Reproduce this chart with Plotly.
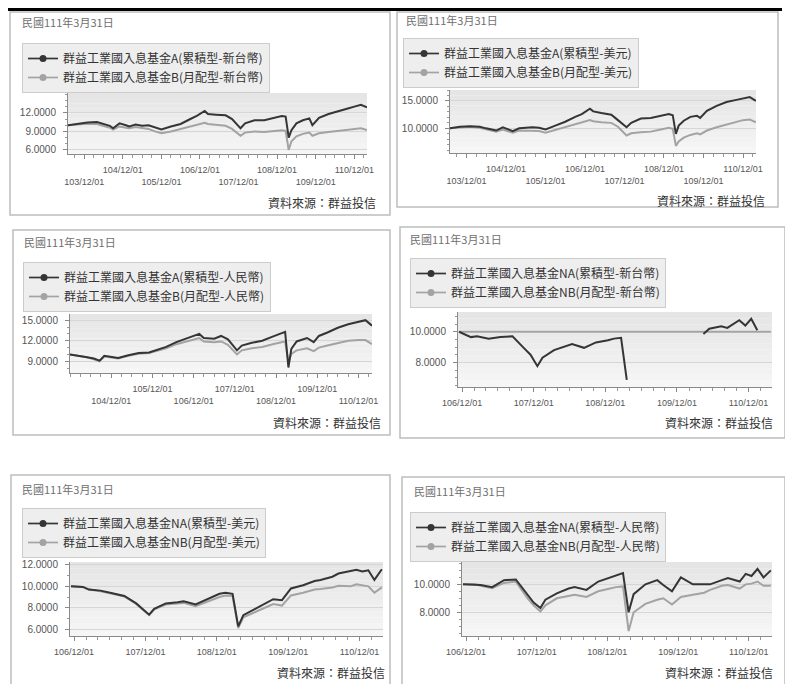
import plotly.graph_objects as go

# the page has an 8px body margin, so the figure is drawn 8px in from the
# top-left corner of the 793x684 window
OX, OY = 8, 8
W, H = 793 - OX, 684 - OY

# ---- data -----------------------------------------------------------------
DATE_STAMP = "民國111年3月31日"
SOURCE = "資料來源：群益投信"

TICK_DATES = ["2014-12-01", "2015-12-01", "2016-12-01", "2017-12-01",
              "2018-12-01", "2019-12-01", "2020-12-01", "2021-12-01"]
TICK_LABELS = ["103/12/01", "104/12/01", "105/12/01", "106/12/01",
               "107/12/01", "108/12/01", "109/12/01", "110/12/01"]

FUND = "群益工業國入息基金"
NAMES = [
    ["A(累積型-新台幣)", "B(月配型-新台幣)"],
    ["A(累積型-美元)", "B(月配型-美元)"],
    ["A(累積型-人民幣)", "B(月配型-人民幣)"],
    ["NA(累積型-新台幣)", "NB(月配型-新台幣)"],
    ["NA(累積型-美元)", "NB(月配型-美元)"],
    ["NA(累積型-人民幣)", "NB(月配型-人民幣)"],
]

# A / B share classes (TWD, USD)
DATES_AB = ["2014-07-01", "2014-10-01", "2015-01-01", "2015-04-01", "2015-06-01", "2015-08-01",
            "2015-09-01", "2015-11-01", "2016-01-01", "2016-02-01", "2016-04-01", "2016-06-01",
            "2016-08-01", "2016-10-01", "2016-12-01", "2017-03-01", "2017-06-01", "2017-09-01",
            "2017-11-01", "2018-01-15", "2018-02-15", "2018-05-01", "2018-08-01", "2018-10-01",
            "2018-12-20", "2019-02-01", "2019-05-01", "2019-08-01", "2019-11-01", "2020-01-15",
            "2020-02-20", "2020-03-20", "2020-04-15", "2020-06-01", "2020-08-01", "2020-10-01",
            "2020-10-30", "2021-01-01", "2021-04-01", "2021-07-01", "2021-10-01", "2021-12-01",
            "2022-02-01", "2022-03-31"]
TWD_A = [10.0, 10.25, 10.45, 10.5, 10.2, 9.9, 9.5, 10.3, 10.0, 9.8,
         10.1, 9.9, 10.0, 9.6, 9.3, 9.8, 10.2, 11.0, 11.5, 12.3,
         11.8, 11.7, 11.6, 11.0, 9.5, 10.3, 10.8, 10.8, 11.2, 11.5,
         11.4, 8.0, 9.2, 10.3, 10.8, 11.1, 10.0, 11.2, 11.8, 12.3,
         12.7, 13.0, 13.3, 12.9]
TWD_B = [10.0, 10.15, 10.25, 10.2, 9.9, 9.6, 9.3, 9.8, 9.6, 9.5,
         9.7, 9.5, 9.4, 9.0, 8.7, 9.0, 9.4, 9.9, 10.1, 10.4,
         10.2, 10.1, 9.9, 9.4, 8.3, 8.8, 9.0, 8.9, 9.1, 9.2,
         9.1, 6.0, 7.4, 8.2, 8.6, 8.8, 8.3, 8.7, 8.9, 9.1,
         9.3, 9.4, 9.5, 9.2]
USD_A = [10.0, 10.3, 10.4, 10.3, 10.0, 9.7, 9.6, 10.2, 9.8, 9.5,
         10.0, 10.1, 10.2, 10.1, 9.8, 10.5, 11.2, 12.1, 12.6, 13.6,
         13.1, 12.8, 12.5, 11.5, 10.2, 11.0, 11.8, 11.9, 12.3, 12.6,
         12.4, 9.0, 10.5, 11.4, 12.1, 12.3, 11.9, 13.2, 14.1, 14.8,
         15.2, 15.5, 15.7, 15.0]
USD_B = [10.0, 10.2, 10.3, 10.1, 9.8, 9.5, 9.4, 9.8, 9.4, 9.2,
         9.6, 9.6, 9.6, 9.5, 9.2, 9.7, 10.2, 10.8, 11.1, 11.5,
         11.3, 11.1, 11.0, 10.3, 8.7, 9.1, 9.3, 9.4, 9.8, 10.1,
         9.9, 6.8, 7.6, 8.3, 8.8, 9.1, 8.9, 9.6, 10.2, 10.7,
         11.2, 11.5, 11.6, 11.1]

# A / B share classes (CNY)
DATES_CNY = ["2014-12-01", "2015-03-01", "2015-05-01", "2015-07-01", "2015-08-20", "2015-10-01",
             "2015-12-01", "2016-02-01", "2016-05-01", "2016-08-01", "2016-11-01", "2017-01-01",
             "2017-04-01", "2017-07-01", "2017-10-01", "2018-01-20", "2018-03-01", "2018-06-01",
             "2018-08-01", "2018-10-01", "2018-12-20", "2019-02-01", "2019-05-01", "2019-08-01",
             "2019-11-01", "2020-02-20", "2020-03-20", "2020-04-15", "2020-06-01", "2020-09-01",
             "2020-10-30", "2020-12-15", "2021-03-01", "2021-06-01", "2021-09-01", "2021-12-01",
             "2022-02-01", "2022-03-31"]
CNY_A = [10.0, 9.8, 9.6, 9.4, 9.1, 9.8, 9.6, 9.5, 9.9, 10.2,
         10.3, 10.6, 11.1, 11.8, 12.3, 13.0, 12.4, 12.3, 12.7, 12.2,
         10.6, 11.3, 11.7, 12.0, 12.6, 13.3, 8.1, 10.8, 11.9, 12.4,
         11.8, 12.7, 13.2, 13.9, 14.4, 14.8, 15.0, 14.2]
CNY_B = [10.0, 9.8, 9.6, 9.3, 9.0, 9.7, 9.5, 9.4, 9.8, 10.1,
         10.2, 10.5, 10.9, 11.5, 11.9, 12.4, 11.9, 11.8, 11.9, 11.4,
         10.0, 10.6, 10.9, 11.1, 11.5, 11.9, 8.9, 10.1, 10.6, 10.9,
         10.5, 11.0, 11.3, 11.7, 12.0, 12.1, 12.1, 11.5]

# NA / NB share classes
DATES_N = ["2017-11-15", "2018-01-15", "2018-02-15", "2018-04-15", "2018-06-15", "2018-08-15",
           "2018-10-15", "2018-11-15", "2018-12-20", "2019-01-15", "2019-03-15", "2019-05-15",
           "2019-06-15", "2019-08-15", "2019-10-15", "2019-12-15", "2020-01-15", "2020-02-20",
           "2020-03-20", "2020-04-15", "2020-06-15", "2020-08-15", "2020-09-15", "2020-10-30",
           "2020-12-15", "2021-02-15", "2021-04-15", "2021-05-15", "2021-07-15", "2021-08-15",
           "2021-10-15", "2021-11-15", "2021-12-15", "2022-01-15", "2022-02-15", "2022-03-25"]
TWD_NA = [10.0, 9.65, 9.7, 9.55, 9.65, 9.7, 8.9, 8.5, 7.75, 8.3,
          8.8, 9.1, 9.2, 8.95, 9.3, 9.45, 9.55, 9.6, 6.85, None,
          None, None, None, None, None, None, 9.85, 10.2, 10.35, 10.25,
          10.75, 10.4, 10.85, 10.1, None, None]
TWD_NB = [10.0, 10.0, 10.0, 10.0, 10.0, 10.0, 10.0, 10.0, 10.0, 10.0,
          10.0, 10.0, 10.0, 10.0, 10.0, 10.0, 10.0, 10.0, 10.0, 10.0,
          10.0, 10.0, 10.0, 10.0, 10.0, 10.0, 10.0, 10.0, 10.0, 10.0,
          10.0, 10.0, 10.0, 10.0, 10.0, 10.0]
USD_NA = [10.0, 9.95, 9.7, 9.6, 9.35, 9.1, 8.4, 7.9, 7.35, 7.9,
          8.4, 8.5, 8.6, 8.3, 8.8, 9.3, 9.4, 9.3, 6.25, 7.3,
          7.9, 8.5, 8.8, 8.7, 9.8, 10.1, 10.5, 10.6, 10.9, 11.2,
          11.4, 11.55, 11.4, 11.5, 10.6, 11.6]
USD_NB = [10.0, 9.95, 9.7, 9.55, 9.3, 9.05, 8.35, 7.85, 7.3, 7.85,
          8.3, 8.4, 8.45, 8.15, 8.6, 9.0, 9.15, 9.1, 6.1, 7.1,
          7.6, 8.1, 8.35, 8.2, 9.15, 9.4, 9.7, 9.75, 9.9, 10.05,
          10.0, 10.2, 10.1, 10.0, 9.4, 9.9]
CNY_NA = [10.0, 10.0, 9.95, 9.8, 10.3, 10.35, 9.2, 8.7, 8.3, 8.9,
          9.35, 9.7, 9.8, 9.6, 10.2, 10.5, 10.65, 10.8, 8.0, 9.3,
          10.0, 10.3, 9.95, 9.5, 10.5, 10.0, 10.0, 10.0, 10.3, 10.45,
          10.2, 10.75, 10.6, 11.1, 10.5, 11.0]
CNY_NB = [10.0, 10.0, 9.9, 9.72, 10.1, 10.2, 9.0, 8.5, 8.05, 8.5,
          9.0, 9.2, 9.25, 9.1, 9.5, 9.7, 9.8, 9.85, 6.65, 8.0,
          8.6, 8.9, 9.0, 8.55, 9.1, 9.25, 9.4, 9.6, 9.9, 9.95,
          9.7, 10.0, 10.05, 10.2, 9.9, 9.9]

# ---- layout of the six panels (window-pixel geometry) ----------------------
PANELS = [
    dict(dates=DATES_AB, a=TWD_A, b=TWD_B, xr=["2014-07-01", "2022-03-31"], first_tick=0, two_rows=True,
         box=(10, 12, 390, 215), plot=(68, 93, 367, 154), stamp=(20, 22), legend=(22, 43), source=(378, 202),
         yr=[5.35, 15.2], yt=[6, 9, 12], ym=1, xm="M3"),
    dict(dates=DATES_AB, a=USD_A, b=USD_B, xr=["2014-07-01", "2022-03-31"], first_tick=0, two_rows=True,
         box=(397, 12, 778, 207), plot=(450, 90, 756, 153), stamp=(404, 20), legend=(403, 38), source=(767, 201),
         yr=[5.5, 17.0], yt=[10, 15], ym=1, xm="M3"),
    dict(dates=DATES_CNY, a=CNY_A, b=CNY_B, xr=["2014-12-01", "2022-03-31"], first_tick=1, two_rows=True,
         box=(13, 230, 390, 435), plot=(70, 314, 372, 373), stamp=(22, 242), legend=(23, 262), source=(383, 422),
         yr=[7.3, 15.9], yt=[9, 12, 15], ym=1, xm="M3"),
    dict(dates=DATES_N, a=TWD_NA, b=TWD_NB, xr=["2017-11-10", "2022-03-31"], first_tick=3, two_rows=False,
         box=(400, 227, 785, 438), plot=(458, 312, 772, 387), stamp=(408, 239), legend=(410, 258), source=(775, 422),
         yr=[6.39, 11.29], yt=[8, 10], ym=0.5, xm="M2"),
    dict(dates=DATES_N, a=USD_NA, b=USD_NB, xr=["2017-11-10", "2022-03-31"], first_tick=3, two_rows=False,
         box=(11, 475, 390, 700), plot=(70, 562, 383, 636), stamp=(20, 489), legend=(22, 508), source=(387, 672),
         yr=[5.35, 12.28], yt=[6, 8, 10, 12], ym=1, xm="M2"),
    dict(dates=DATES_N, a=CNY_NA, b=CNY_NB, xr=["2017-11-10", "2022-03-31"], first_tick=3, two_rows=False,
         box=(402, 477, 785, 700), plot=(462, 562, 772, 636), stamp=(412, 491), legend=(410, 512), source=(775, 672),
         yr=[6.3, 11.6], yt=[8, 10], ym=0.5, xm="M2"),
]

DARK = "#353535"
LIGHT = "#a3a3a3"
CJK = "Noto Sans CJK TC, Noto Sans, sans-serif"
NUM = "Liberation Sans, Arial, sans-serif"


def px(x):
    return (x - OX) / W


def py(y):
    return 1 - (y - OY) / H


fig = go.Figure()
shapes = []
annotations = []
layout = {}

# thick rule along the top of the page
shapes.append(dict(type="line", xref="paper", yref="paper", x0=0, x1=px(782), y0=py(9.5), y1=py(9.5),
                   line=dict(color="black", width=3)))

for k, p in enumerate(PANELS, start=1):
    s = "" if k == 1 else str(k)
    xname, yname = f"x{s}", f"y{s}"
    leg = "legend" if k == 1 else f"legend{k}"

    # panel frame
    bx0, by0, bx1, by1 = p["box"]
    shapes.append(dict(type="rect", xref="paper", yref="paper", x0=px(bx0), x1=px(bx1), y0=py(by1), y1=py(by0),
                       line=dict(color="#bdbdbd", width=1.5), fillcolor="rgba(0,0,0,0)", layer="below"))

    # soft vertical gradient in the plot area
    nb = 12
    for j in range(nb):
        g = int(246 - 17 * j / (nb - 1))
        shapes.append(dict(type="rect", xref=f"{xname} domain", yref=f"{yname} domain",
                           x0=0, x1=1, y0=j / nb, y1=(j + 1) / nb, line=dict(width=0),
                           fillcolor=f"rgb({g},{g},{g})", layer="below"))

    # ticks / labels (two staggered rows on the long panels)
    tv = TICK_DATES[p["first_tick"]:]
    tl = TICK_LABELS[p["first_tick"]:]
    if p["two_rows"]:
        tt = [("<br>" + t) if i % 2 == 0 else t for i, t in enumerate(tl)]
    else:
        tt = tl

    x0, y0, x1, y1 = p["plot"]
    layout[f"xaxis{s}"] = dict(
        domain=[px(x0), px(x1)], anchor=yname, type="date", range=p["xr"], automargin=False,
        tickmode="array", tickvals=tv, ticktext=tt, tickangle=0,
        ticks="outside", ticklen=4, tickcolor="#888", showline=True, linecolor="#8a8a8a", linewidth=1,
        showgrid=False, zeroline=False, fixedrange=True, ticklabelstandoff=3,
        tickfont=dict(family=NUM, size=9, color="#555"),
        minor=dict(tickmode="linear", tick0="2014-12-01", dtick=p["xm"], ticks="outside",
                   ticklen=3, tickcolor="#999", showgrid=False),
    )
    layout[f"yaxis{s}"] = dict(
        domain=[py(y1), py(y0)], anchor=xname, range=p["yr"], automargin=False,
        tickmode="array", tickvals=p["yt"], tickformat=".4f",
        ticks="outside", ticklen=4, tickcolor="#888", showline=True, linecolor="#8a8a8a", linewidth=1,
        showgrid=True, gridcolor="#d6d6d6", gridwidth=1, zeroline=False, fixedrange=True,
        ticklabelstandoff=5, tickfont=dict(family=NUM, size=10, color="#555"),
        minor=dict(tickmode="linear", tick0=0, dtick=p["ym"], ticks="outside", ticklen=2,
                   tickcolor="#999", showgrid=False),
    )

    # series
    fig.add_trace(go.Scatter(x=p["dates"], y=p["b"], mode="lines", line=dict(color=LIGHT, width=2),
                             xaxis=xname, yaxis=yname, showlegend=False, connectgaps=False,
                             name=FUND + NAMES[k - 1][1]))
    fig.add_trace(go.Scatter(x=p["dates"], y=p["a"], mode="lines", line=dict(color=DARK, width=2),
                             xaxis=xname, yaxis=yname, showlegend=False, connectgaps=False,
                             name=FUND + NAMES[k - 1][0]))
    # legend entries (line + dot symbol)
    for nm, col in zip(NAMES[k - 1], [DARK, LIGHT]):
        fig.add_trace(go.Scatter(x=[None], y=[None], mode="lines+markers", name=FUND + nm,
                                 line=dict(color=col, width=1.7), marker=dict(color=col, size=7),
                                 xaxis=xname, yaxis=yname, legend=leg, showlegend=True))

    lx, ly = p["legend"]
    layout[leg] = dict(x=px(lx), y=py(ly), xanchor="left", yanchor="top",
                       bgcolor="#eeeeee", bordercolor="#cccccc", borderwidth=1,
                       font=dict(family=CJK, size=12, color="#333"), itemwidth=30,
                       tracegroupgap=0)

    sx, sy = p["stamp"]
    annotations.append(dict(text=DATE_STAMP, x=px(sx), y=py(sy), xref="paper", yref="paper",
                            xanchor="left", yanchor="middle", showarrow=False,
                            font=dict(family=CJK, size=11, color="#707070")))
    rx, ry = p["source"]
    annotations.append(dict(text=SOURCE, x=px(rx), y=py(ry), xref="paper", yref="paper",
                            xanchor="right", yanchor="middle", showarrow=False,
                            font=dict(family=CJK, size=12, color="#333")))

fig.update_layout(
    template="none",
    width=W, height=H, margin=dict(l=0, r=0, t=0, b=0, autoexpand=False),
    paper_bgcolor="white", plot_bgcolor="white",
    font=dict(family=CJK, color="#333"),
    shapes=shapes, annotations=annotations, hovermode=False,
    **layout,
)

fig.write_html("out.html")
